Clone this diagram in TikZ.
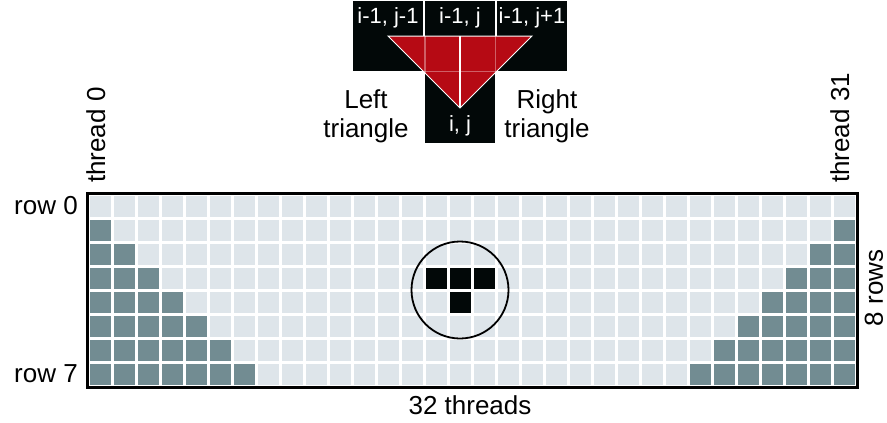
\documentclass[tikz,border=0pt]{standalone}
\usepackage{fontspec}
\setmainfont{Liberation Sans}
\definecolor{cellL}{RGB}{222,229,234}
\definecolor{cellD}{RGB}{114,140,146}
\definecolor{redT}{RGB}{182,10,20}
\definecolor{boxK}{RGB}{2,8,8}
\begin{document}
\begin{tikzpicture}[x=1pt,y=-1pt,
  lbl/.style={font=\fontsize{26}{29}\selectfont, inner sep=0pt},
  boxlbl/.style={font=\fontsize{22}{24}\selectfont, text=white, inner sep=0pt},
  blackbox/.style={fill=boxK, draw=white, line width=1.5pt, minimum width=72pt, minimum height=72pt, inner sep=0pt},
  whiteline/.style={draw=white, line width=1.5pt}]
\useasboundingbox (0,0) rectangle (887,423);
\fill[white] (0,0) rectangle (887,423);
% top stencil
\node[blackbox] (b1) at (388,36) {};
\node[blackbox] (b2) at (460,36) {};
\node[blackbox] (b3) at (532,36) {};
\node[blackbox] (b4) at (460,108) {};
\fill[redT] (b1.center) -- (b3.center) -- (b4.center) -- cycle;
\begin{scope}
  \clip (b1.center) -- (b3.center) -- (b4.center) -- cycle;
  \draw[white, opacity=0.35, line width=1.5pt] (b1.north east) -- (b1.south east);
  \draw[white, opacity=0.35, line width=1.5pt] (b3.north west) -- (b3.south west);
  \draw[white, opacity=0.35, line width=1.5pt] (b4.north west) -- (b4.north east);
\end{scope}
\draw[whiteline, line width=1pt] (b1.center) -- (b3.center) -- (b4.center) -- cycle;
\draw[whiteline] (b2.center) -- (b4.center);
\node[boxlbl] (t1) at (388,18) {i-1, j-1};
\node[boxlbl] (t2) at (460,18) {i-1, j};
\node[boxlbl] (t3) at (532,18) {i-1, j+1};
\node[boxlbl] (t4) at (460,126) {i, j};
\node[lbl, align=center] (left) at (366,116) {Left\\triangle};
\node[lbl, align=center] (right) at (547,116) {Right\\triangle};
% grid
\foreach \r in {0,...,7}{\foreach \c in {0,...,31}{
  \ifnum\c<\r \def\cc{cellD}\else\ifnum\c>\numexpr31-\r\relax \def\cc{cellD}\else\def\cc{cellL}\fi\fi
  \fill[\cc] ({88+24*\c+1.5},{194+24*\r+1.5}) rectangle +(21,21);
}}
\foreach \c/\r in {14/3,15/3,16/3,15/4}{
  \fill[boxK] ({88+24*\c+1.5},{194+24*\r+1.5}) rectangle +(21,21);
}
\node[draw, line width=3pt, minimum width=770pt, minimum height=194pt, inner sep=0pt] (grid) at (472,290) {};
\node[draw, circle, line width=1.8pt, minimum size=97pt, inner sep=0pt] (circ) at (460,290) {};
% labels
\node[lbl, anchor=east] (row0) at (78,206) {row 0};
\node[lbl, anchor=east] (row7) at (78,374) {row 7};
\node[lbl] (threads) at (470,405) {32 threads};
\node[lbl, rotate=90, anchor=base west] (th0) at (105,183) {thread 0};
\node[lbl, rotate=90, anchor=base west] (th31) at (849,183) {thread 31};
\node[lbl, rotate=90] (rows) at (874,288) {8 rows};
\end{tikzpicture}
\end{document}
